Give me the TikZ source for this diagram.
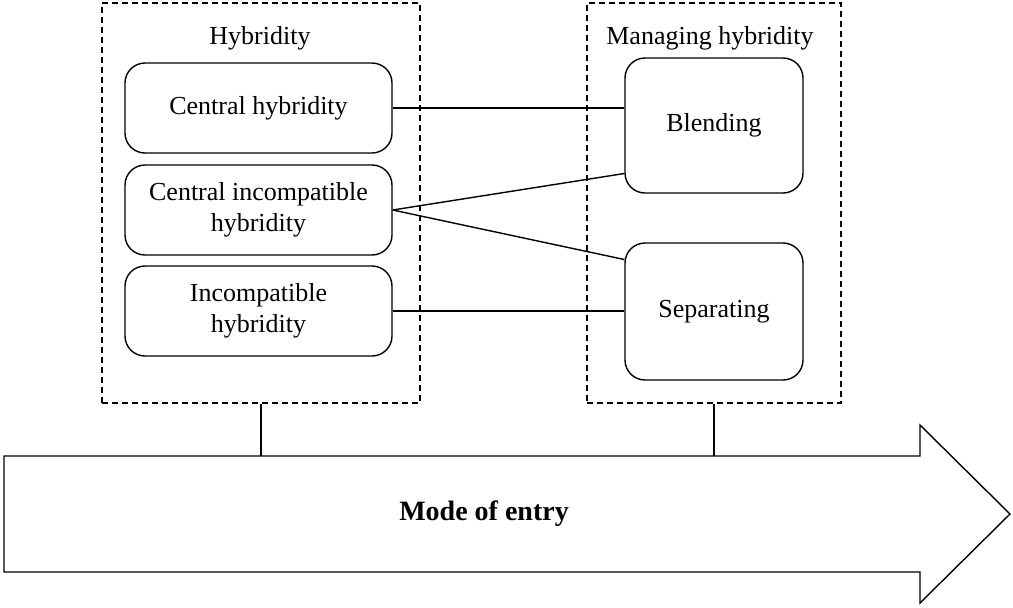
\documentclass[tikz,border=0pt]{standalone}
\usepackage{fontspec}
\setmainfont{Liberation Serif}
\usetikzlibrary{positioning, calc}

\begin{document}
\begin{tikzpicture}[
    x=0.5pt, y=-0.5pt,
    font=\fontsize{13}{15.5}\selectfont,
    line width=0.7pt,
    group_box/.style={draw, dash pattern=on 3pt off 2pt, minimum width=159pt, minimum height=200pt},
    type_block/.style={draw, rounded corners=10pt, minimum width=133.5pt, minimum height=45pt, align=center},
    mgmt_block/.style={draw, rounded corners=10pt, minimum width=89pt, minimum height=68pt, align=center},
    link/.style={-}
]
\useasboundingbox (0,0) rectangle (1013,607);

% --- Groups ---
\node[group_box] (hyb) at (261, 203) {};
\node[group_box, minimum width=127pt] (mgmt) at (714, 203) {};
\node (hybT) at (260, 38) {Hybridity};
\node (mgmtT) at (710, 38) {Managing hybridity};

% --- Types of hybridity ---
\node[type_block] (ch) at (258.5, 108) {Central hybridity};
\node[type_block] (cih) at (258.5, 210) {Central incompatible\\hybridity};
\node[type_block] (ih) at (258.5, 311) {Incompatible\\hybridity};

% --- Managing ---
\node[mgmt_block, minimum height=67.5pt] (bl) at (714, 125.5) {Blending};
\node[mgmt_block, minimum height=68.5pt] (sep) at (714, 311.5) {Separating};

% --- Links ---
\draw[link] (ch.east) -- (ch.east -| bl.west);
\draw[link] (cih.east) -- ([yshift=-24pt]bl.west);
\draw[link] (cih.east) -- ([yshift=26pt]sep.west);
\draw[link] (ih.east) -- (ih.east -| sep.west);

% --- Mode of entry arrow ---
\coordinate (atop) at (4, 456);
\draw (atop) -- (920, 456) -- (920, 425) -- (1010, 514) -- (920, 603)
    -- (920, 572) -- (4, 572) -- cycle;
\node[font=\fontsize{14}{16}\selectfont\bfseries] (entry) at (484, 514) {Mode of entry};

\draw[link] (hyb.south) -- (hyb.south |- atop);
\draw[link] (mgmt.south) -- (mgmt.south |- atop);

\end{tikzpicture}
\end{document}
